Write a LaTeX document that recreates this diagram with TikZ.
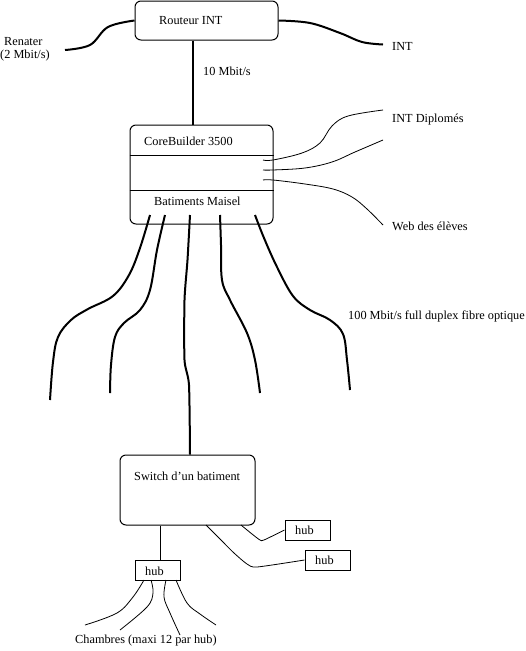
\documentclass[tikz,border=0pt]{standalone}
\usepackage{fontspec}
\setmainfont{Liberation Serif}
\begin{document}
\begin{tikzpicture}[x=1pt,y=-1pt,
  thinl/.style={line width=1pt},
  thickl/.style={line width=2pt},
  rbox/.style={draw,line width=1pt,rounded corners=6pt,inner sep=0pt},
  hubbox/.style={draw,line width=1pt,minimum width=45pt,minimum height=20pt,inner sep=0pt},
  lbl/.style={anchor=west,inner sep=0pt,font=\fontsize{12.3}{14}\selectfont},
  cv/.style={smooth,tension=0.6}]
\useasboundingbox (0,0) rectangle (526,651);
% Router
\node[rbox,minimum width=143pt,minimum height=39pt] (router) at (206.5,20.5) {};
\node[lbl] (routerT) at (159,21) {Routeur INT};
\node[lbl] (renT1) at (4,42) {Renater};
\node[lbl] (renT2) at (0,56) {(2 Mbit/s)};
\node[lbl] (intT) at (392,46) {INT};
\coordinate (renE) at (65,50);
\coordinate (intE) at (383,44.5);
\draw[thickl] plot[cv] coordinates {(renE) (90,45) (108,27) (router.west)};
\draw[thickl] plot[cv] coordinates {(router.east) (310,23) (340,33) (362,42) (intE)};
% CoreBuilder
\node[rbox,minimum width=143pt,minimum height=99pt] (cb) at (201.5,174.5) {};
\draw[thinl] (cb.west |- 0,155) coordinate (d1) -- (cb.east |- d1);
\draw[thinl] (cb.west |- 0,190) coordinate (d2) -- (cb.east |- d2);
\node[lbl] (cbT) at (144,141) {CoreBuilder 3500};
\node[lbl] (bmT) at (154,201) {Batiments Maisel};
\coordinate (rs) at (router.south -| 193,0);
\coordinate (cn) at (cb.north -| 193,0);
\draw[thickl] (rs) -- (cn);
\node[lbl] (tenT) at (203,71) {10 Mbit/s};
% right side links
\node[lbl] (dipT) at (392,120) {INT Diplomés};
\node[lbl] (webT) at (392,226) {Web des élèves};
\coordinate (p1) at (263,160);
\coordinate (p2) at (263,170);
\coordinate (p3) at (263,180);
\coordinate (e1) at (383,110);
\coordinate (e2) at (383,140);
\coordinate (e3) at (383,225);
\draw[line width=0.8pt] plot[cv] coordinates {(p1) (273,160) (302,153) (320,143) (332,126) (348,116) (e1)};
\draw[line width=0.8pt] plot[cv] coordinates {(p2) (273,170) (305,168) (332,162) (355,152) (e2)};
\draw[line width=0.8pt] plot[cv] coordinates {(p3) (273,180) (305,184) (333,189) (352,197) (367,209) (e3)};
% fibre lines
\coordinate (f1) at (150,215);
\coordinate (f2) at (165,215);
\coordinate (f3) at (190,215);
\coordinate (f4) at (220,215);
\coordinate (f5) at (255,215);
\coordinate (g1) at (50,400);
\coordinate (g2) at (110,393);
\coordinate (g4) at (260,393);
\coordinate (g5) at (350,390);
\draw[thickl] plot[cv] coordinates {(f1) (140,248) (129,275) (113,296) (88,309) (71,320) (58,337) (53,362) (g1)};
\draw[thickl] plot[cv] coordinates {(f2) (157,250) (150,290) (140,310) (124,323) (115,337) (111,365) (g2)};
\draw[thickl] plot[cv] coordinates {(f4) (221,245) (222,280) (230,300) (247,333) (255,360) (g4)};
\draw[thickl] plot[cv] coordinates {(f5) (264,238) (277,267) (293,296) (310,310) (330,320) (343,334) (347,360) (g5)};
\node[lbl] (fibT) at (348,316) {100 Mbit/s full duplex fibre optique};
% Switch
\node[rbox,minimum width=135pt,minimum height=70pt] (sw) at (187.5,490) {};
\node[lbl] (swT) at (134,476) {Switch d'un batiment};
\draw[thickl] plot[smooth,tension=0.4] coordinates {(f3) (187.5,260) (184.5,300) (184.5,360) (189,385) (sw.north -| 190,0)};
% hubs
\node[hubbox] (hub1) at (157.5,570.5) {};
\node[lbl] (hub1T) at (145,571) {hub};
\node[hubbox] (hub2) at (307.5,530) {};
\node[lbl] (hub2T) at (295,530) {hub};
\node[hubbox] (hub3) at (327.5,560) {};
\node[lbl] (hub3T) at (315,560) {hub};
\draw[thinl] (sw.south -| 160.5,0) -- (hub1.north -| 160.5,0);
\coordinate (s2) at (241,525);
\coordinate (s3) at (206,525);
\draw[line width=0.8pt] plot[smooth,tension=0.4] coordinates {(s2) (252,534) (260,540) (264,540) (hub2.west)};
\draw[line width=0.8pt] plot[smooth,tension=0.4] coordinates {(s3) (220,539) (234,553) (247,564) (257,567) (hub3.west)};
% rooms
\coordinate (h1) at (144,580);
\coordinate (h2) at (151,580);
\coordinate (h3) at (166,580);
\coordinate (h4) at (176,580);
\coordinate (r1) at (85,625);
\coordinate (r2) at (120,630);
\coordinate (r3) at (180,635);
\coordinate (r4) at (216,625);
\draw[line width=0.8pt] plot[cv] coordinates {(h1) (133,597) (117,613) (r1)};
\draw[line width=0.8pt] plot[cv] coordinates {(h2) (153,593) (147,607) (r2)};
\draw[line width=0.8pt] plot[cv] coordinates {(h3) (164,597) (170,613) (r3)};
\draw[line width=0.8pt] plot[cv] coordinates {(h4) (187,603) (200,614) (r4)};
\node[lbl] (chT) at (75,641) {Chambres (maxi 12 par hub)};
\end{tikzpicture}
\end{document}
